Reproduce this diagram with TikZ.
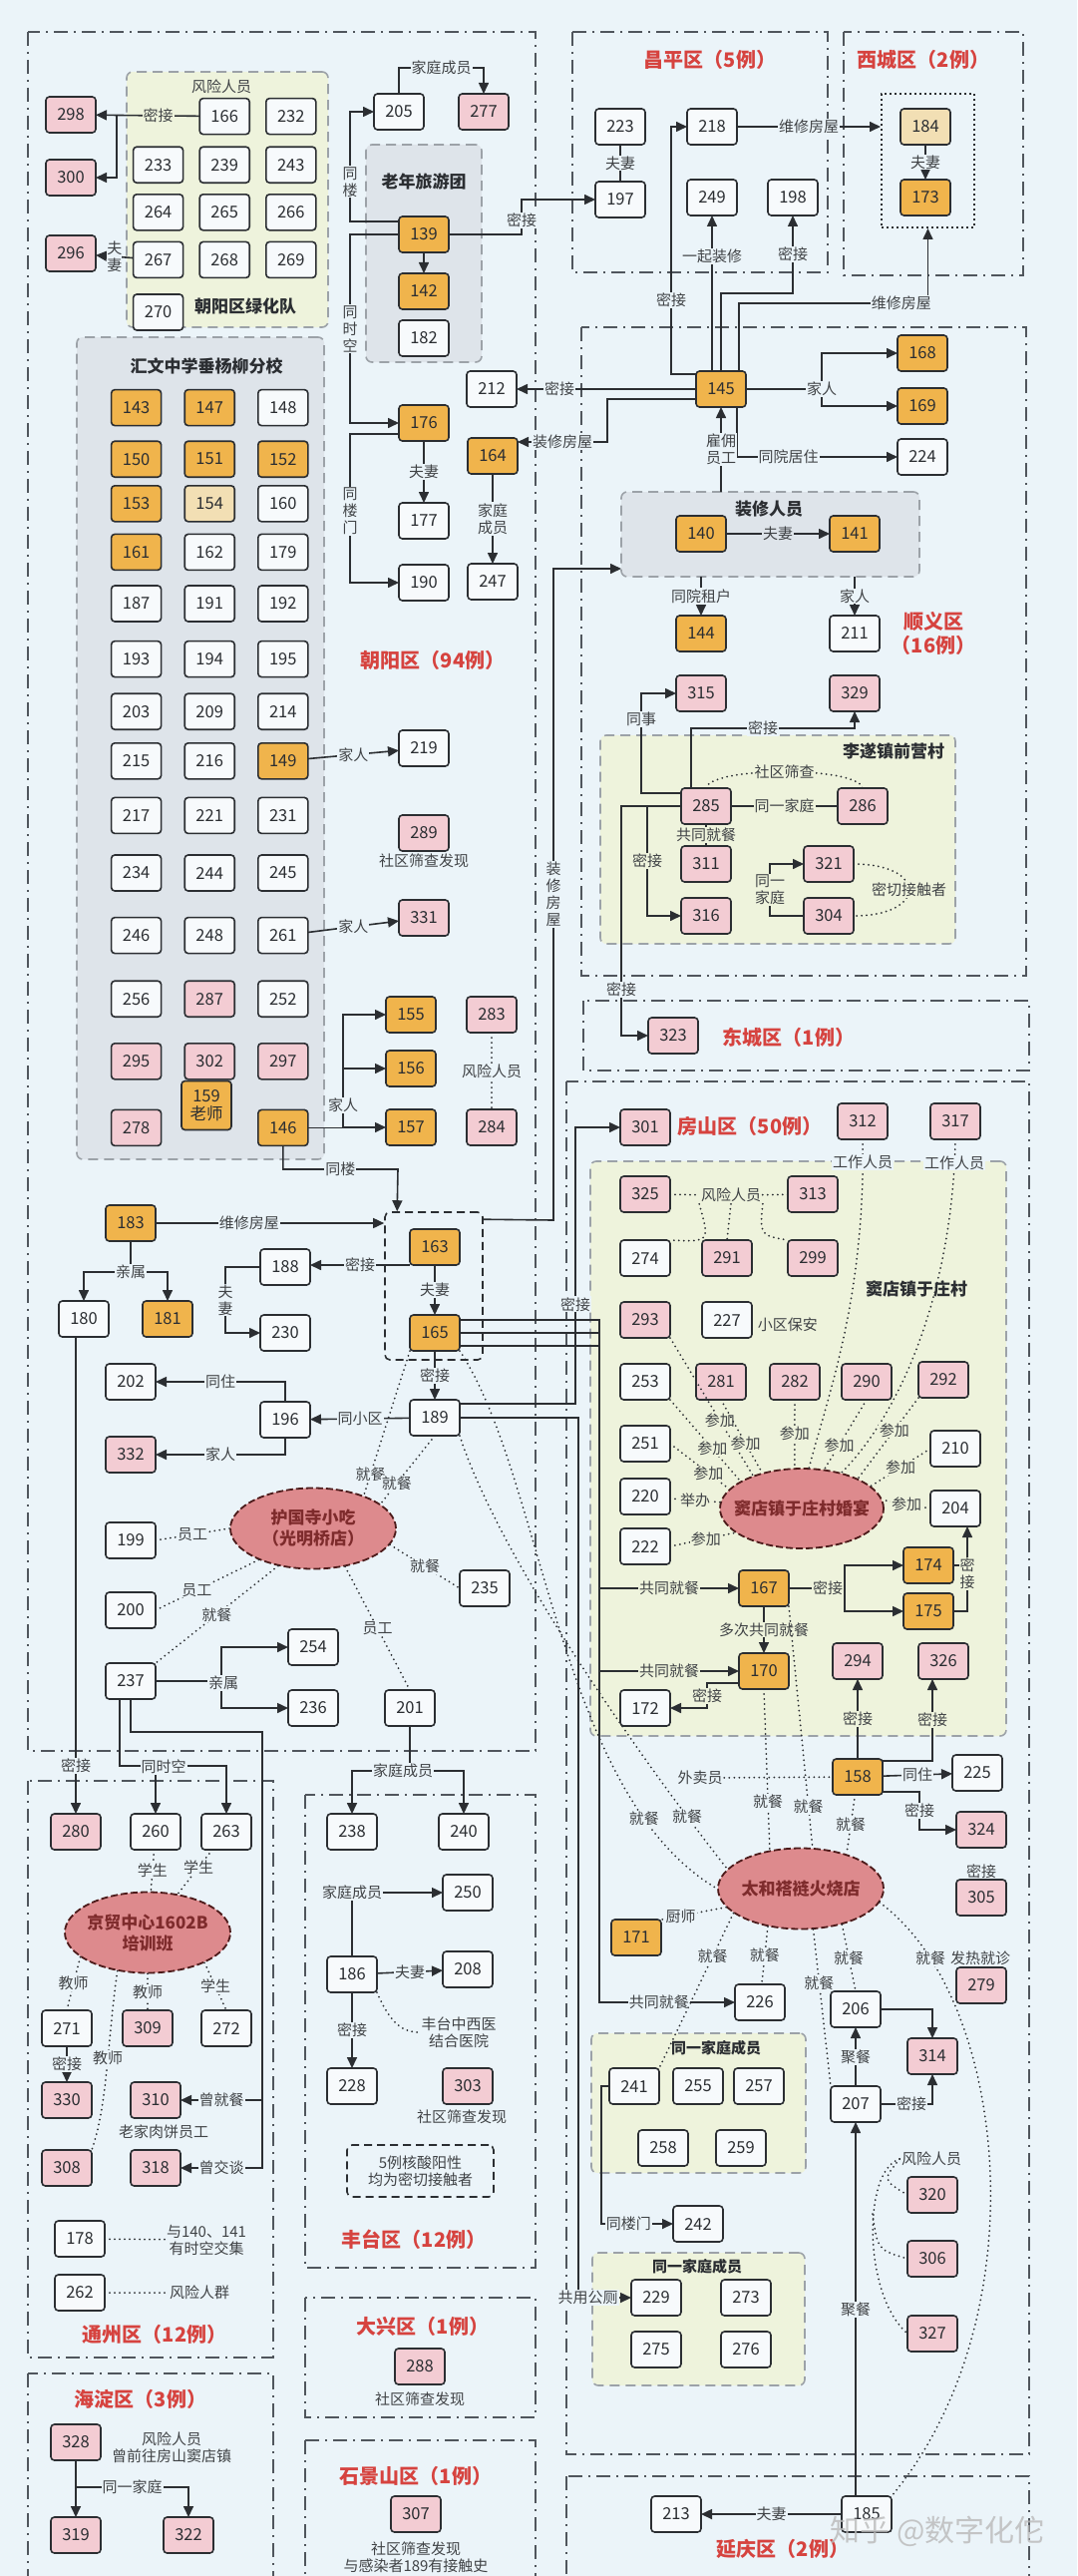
\documentclass[tikz,border=0pt]{standalone}
\usepackage{fontspec}
\setmainfont{Noto Sans CJK SC}
\usetikzlibrary{matrix,shapes.geometric,arrows.meta}
\definecolor{bg}{HTML}{EBF4F9}
\definecolor{grn}{HTML}{EEF3DC}
\definecolor{gry}{HTML}{DEE4EA}
\definecolor{orng}{HTML}{F0B44C}
\definecolor{pnkc}{HTML}{F3CCD3}
\definecolor{tanc}{HTML}{F2DFB4}
\definecolor{wht}{HTML}{F7FAFC}
\definecolor{ink}{HTML}{2B2E32}
\definecolor{rgn}{HTML}{50565D}
\definecolor{grb}{HTML}{9CA2A8}
\definecolor{redt}{HTML}{D6433F}
\definecolor{ellf}{HTML}{DD8A8D}
\definecolor{ellt}{HTML}{7E2B2C}
\newcommand{\lblfont}{\fontsize{15}{17}\selectfont}

\begin{document}
\begin{tikzpicture}[x=1pt,y=-1pt,color=ink,line width=1.6pt,
  >={Triangle[length=11pt,width=10pt]},
  box/.style={draw=ink,line width=1.6pt,rounded corners=3.5pt,fill=wht,minimum width=50pt,minimum height=36pt,inner sep=2pt,outer sep=0pt,font=\fontsize{16.5}{18}\selectfont,text=ink},
  org/.style={box,fill=orng},
  pnk/.style={box,fill=pnkc},
  tan/.style={box,fill=tanc},
  lbl/.style={fill=bg,inner sep=1pt,font=\lblfont,text=ink!90},
  lblg/.style={lbl,fill=grn},
  lbly/.style={lbl,fill=gry},
  txt/.style={font=\lblfont,text=ink!90,align=center,inner sep=1pt},
  ttl/.style={font=\fontsize{20}{24}\selectfont\bfseries,text=redt,align=center},
  gttl/.style={font=\fontsize{17}{20}\selectfont\bfseries,text=ink},
  dist/.style={draw=rgn,line width=2pt,dash pattern=on 14pt off 6pt on 2pt off 6pt},
  grp/.style={draw=grb,line width=1.6pt,dash pattern=on 10pt off 6pt,rounded corners=6pt,fill=grn,outer sep=0pt},
  ell/.style={ellipse,draw=ellt!60!black,fill=ellf,line width=1.8pt,dash pattern=on 7pt off 3pt,minimum width=166pt,minimum height=81pt},
  etx/.style={font=\fontsize{17}{21}\selectfont\bfseries,text=ellt,align=center},
  dot/.style={line width=2pt,line cap=round,dash pattern=on 0pt off 5pt}]
\fill[bg] (0,0) rectangle (1080,2582);
\useasboundingbox (0,0) rectangle (1080,2582);

\draw[dist] (28,32) rectangle (537,1755);
\draw[dist] (574,32) rectangle (830,273);
\draw[dist] (846,32) rectangle (1026,276);
\draw[dist] (583,328) rectangle (1029,978);
\draw[dist] (585,1003) rectangle (1032,1073);
\draw[dist] (568,1084) rectangle (1032,2460);
\draw[dist] (568,2482) rectangle (1032,2600);
\draw[dist] (28,1785) rectangle (274,2363);
\draw[dist] (28,2379) rectangle (274,2600);
\draw[dist] (306,1799) rectangle (537,2273);
\draw[dist] (306,2303) rectangle (537,2423);
\draw[dist] (306,2446) rectangle (537,2600);

\node[grp,minimum width=202pt,minimum height=256pt] (lhq) at (228,200) {};
\node[grp,fill=gry,minimum width=116pt,minimum height=218pt] (lnt) at (425,254) {};
\node[grp,fill=gry,minimum width=248pt,minimum height=824pt] (hwx) at (201,750) {};
\node[grp,fill=gry,minimum width=299pt,minimum height=85pt] (zx) at (772.5,535.5) {};
\node[grp,minimum width=356pt,minimum height=209pt] (lsv) at (780,841.5) {};
\node[grp,minimum width=417pt,minimum height=576pt] (ddv) at (800.5,1452) {};
\node[grp,minimum width=215pt,minimum height=140pt] (tj1) at (700.5,2108) {};
\node[grp,minimum width=213pt,minimum height=133pt] (tj2) at (700.5,2324.5) {};
\node[draw=ink,line width=1.6pt,dash pattern=on 8pt off 5pt,rounded corners=5pt,minimum width=98pt,minimum height=148pt] (g165) at (435,1289) {};
\node[draw=ink,line width=2pt,dash pattern=on 2pt off 3pt,minimum width=93pt,minimum height=134pt] (xcb) at (930.5,161) {};

\matrix (lh) [matrix of nodes,ampersand replacement=\&,nodes={box,anchor=center},column sep=15pt,row sep=10pt,inner sep=0pt,anchor=north west] at (132,97)
{
  \& 166 \& 232 \\[1pt]
 233 \& 239 \& 243 \\
 264 \& 265 \& 266 \\
 267 \& 268 \& 269 \\[5pt]
 270 \& \& \\};
\node[txt] (lhf) at (222,87) {风险人员};
\node[gttl] (lht) at (246,307) {朝阳区绿化队};

\matrix (hw) [matrix of nodes,ampersand replacement=\&,nodes={box,anchor=center},column sep=22pt,row sep=7pt,inner sep=0pt,anchor=north west] at (110,389)
{
 |[org]| 143 \& |[org]| 147 \& 148 \\[7pt]
 |[org]| 150 \& |[org]| 151 \& |[org]| 152 \\[0pt]
 |[org]| 153 \& |[tan]| 154 \& 160 \\[4pt]
 |[org]| 161 \& 162 \& 179 \\[7pt]
 187 \& 191 \& 192 \\[11pt]
 193 \& 194 \& 195 \\[8pt]
 203 \& 209 \& 214 \\[5pt]
 215 \& 216 \& |[org]| 149 \\[10pt]
 217 \& 221 \& 231 \\[13pt]
 234 \& 244 \& 245 \\[18pt]
 246 \& 248 \& 261 \\[19pt]
 256 \& |[pnk]| 287 \& 252 \\[18pt]
 |[pnk]| 295 \& |[pnk]| 302 \& |[pnk]| 297 \\[22pt]
 |[pnk]| 278 \& \& |[org]| 146 \\};
\node[org,align=center,minimum height=49pt] (p159) at (207,1108) {159\\老师};
\node[gttl] (hwt) at (207,367) {汇文中学垂杨柳分校};

\node[pnk] (p298) at (71,115) {298};
\node[pnk] (p300) at (71,178) {300};
\node[pnk] (p296) at (71,254) {296};
\node[box] (p205) at (400,112) {205};
\node[pnk] (p277) at (485,112) {277};
\node[gttl] (lntt) at (425,182) {老年旅游团};
\node[org] (p139) at (425,235) {139};
\node[org] (p142) at (425,292) {142};
\node[box] (p182) at (425,339) {182};
\node[box] (p212) at (493,390) {212};
\node[org] (p176) at (425,424) {176};
\node[box] (p177) at (425,522) {177};
\node[box] (p190) at (425,584) {190};
\node[org] (p164) at (494,457) {164};
\node[box] (p247) at (494,583) {247};
\node[ttl] (cy) at (434,662) {朝阳区（94例）};
\node[box] (p219) at (425,750) {219};
\node[pnk] (p289) at (425,835) {289};
\node[txt] (s289) at (425,863) {社区筛查发现};
\node[pnk] (p331) at (425,920) {331};
\node[org] (p155) at (412,1017) {155};
\node[org] (p156) at (412,1071) {156};
\node[org] (p157) at (412,1130) {157};
\node[pnk] (p283) at (493,1017) {283};
\node[pnk] (p284) at (493,1130) {284};
\node[org] (p183) at (131,1226) {183};
\node[box] (p180) at (84,1322) {180};
\node[org] (p181) at (168,1322) {181};
\node[org] (p163) at (436,1250) {163};
\node[org] (p165) at (436,1336) {165};
\node[box] (p188) at (286,1270) {188};
\node[box] (p230) at (286,1336) {230};
\node[box] (p189) at (436,1421) {189};
\node[box] (p196) at (286,1423) {196};
\node[box] (p202) at (131,1385) {202};
\node[pnk] (p332) at (131,1458) {332};
\node[ell] (hgs) at (314,1532) {};
\node[etx] (hgst) at (hgs) {护国寺小吃\\（光明桥店）};
\node[box] (p199) at (131,1544) {199};
\node[box] (p200) at (131,1614) {200};
\node[box] (p235) at (486,1592) {235};
\node[box] (p237) at (131,1685) {237};
\node[box] (p254) at (314,1651) {254};
\node[box] (p236) at (314,1712) {236};
\node[box] (p201) at (411,1712) {201};

\node[pnk] (p280) at (76,1836) {280};
\node[box] (p260) at (156,1836) {260};
\node[box] (p263) at (227,1836) {263};
\node[ell] (jm) at (148,1937) {};
\node[etx] (jmt) at (jm) {京贸中心1602B\\培训班};
\node[box] (p271) at (67,2033) {271};
\node[pnk] (p309) at (148,2033) {309};
\node[box] (p272) at (227,2033) {272};
\node[pnk] (p330) at (67,2105) {330};
\node[pnk] (p310) at (156,2105) {310};
\node[txt] (s310) at (164,2137) {老家肉饼员工};
\node[pnk] (p308) at (67,2173) {308};
\node[pnk] (p318) at (156,2173) {318};
\node[box] (p178) at (80,2244) {178};
\node[txt] (s178) at (207,2245) {与140、141\\有时空交集};
\node[box] (p262) at (80,2298) {262};
\node[txt] (s262) at (200,2298) {风险人群};
\node[ttl] (tz) at (155,2340) {通州区（12例）};
\node[ttl] (hd) at (141,2405) {海淀区（3例）};
\node[pnk] (p328) at (76,2448) {328};
\node[txt] (s328) at (172,2453) {风险人员\\曾前往房山窦店镇};
\node[pnk] (p319) at (76,2541) {319};
\node[pnk] (p322) at (189,2541) {322};

\node[box] (p238) at (353,1836) {238};
\node[box] (p240) at (465,1836) {240};
\node[box] (p250) at (469,1897) {250};
\node[box] (p186) at (353,1979) {186};
\node[box] (p208) at (469,1974) {208};
\node[txt] (hosp) at (460,2037) {丰台中西医\\结合医院};
\node[box] (p228) at (353,2091) {228};
\node[pnk] (p303) at (469,2091) {303};
\node[txt] (s303) at (463,2122) {社区筛查发现};
\node[txt,draw=ink,line width=1.6pt,dash pattern=on 8pt off 5pt,rounded corners=5pt,minimum width=147pt,minimum height=52pt] (fnb) at (421.5,2176) {5例核酸阳性\\均为密切接触者};
\node[ttl] (ft) at (415,2245) {丰台区（12例）};
\node[ttl] (dx) at (424,2332) {大兴区（1例）};
\node[pnk] (p288) at (421,2372) {288};
\node[txt] (s288) at (421,2405) {社区筛查发现};
\node[ttl] (sjs) at (417,2482) {石景山区（1例）};
\node[pnk] (p307) at (417,2520) {307};
\node[txt] (s307) at (417,2563) {社区筛查发现\\与感染者189有接触史};

\node[ttl] (cp) at (712,60) {昌平区（5例）};
\node[ttl] (xc) at (926,60) {西城区（2例）};
\node[box] (p223) at (622,127) {223};
\node[box] (p197) at (622,200) {197};
\node[box] (p218) at (714,127) {218};
\node[box] (p249) at (714,198) {249};
\node[box] (p198) at (795,198) {198};
\node[tan] (p184) at (928,127) {184};
\node[org] (p173) at (928,198) {173};

\node[org] (p145) at (723,390) {145};
\node[org] (p168) at (925,354) {168};
\node[org] (p169) at (925,407) {169};
\node[box] (p224) at (925,458) {224};
\node[gttl] (zxt) at (771,510) {装修人员};
\node[org] (p140) at (703,535) {140};
\node[org] (p141) at (857,535) {141};
\node[org] (p144) at (703,635) {144};
\node[box] (p211) at (857,635) {211};
\node[ttl] (sy) at (936,635) {顺义区\\（16例）};
\node[pnk] (p315) at (703,695) {315};
\node[pnk] (p329) at (857,695) {329};
\node[gttl] (lsvt) at (896,753) {李遂镇前营村};
\node[pnk] (p285) at (708,808) {285};
\node[pnk] (p286) at (865,808) {286};
\node[pnk] (p311) at (708,866) {311};
\node[pnk] (p316) at (708,918) {316};
\node[pnk] (p321) at (831,866) {321};
\node[pnk] (p304) at (831,918) {304};
\node[ttl] (dc) at (791,1040) {东城区（1例）};
\node[pnk] (p323) at (675,1038) {323};

\node[ttl] (fs) at (752,1129) {房山区（50例）};
\node[pnk] (p301) at (647,1130) {301};
\node[pnk] (p312) at (865,1124) {312};
\node[pnk] (p317) at (958,1124) {317};
\node[gttl] (ddvt) at (919,1292) {窦店镇于庄村};
\node[pnk] (p325) at (647,1197) {325};
\node[pnk] (p313) at (815,1197) {313};
\node[txt] (fxr) at (733,1198) {风险人员};
\node[box] (p274) at (647,1261) {274};
\node[pnk] (p291) at (729,1261) {291};
\node[pnk] (p299) at (815,1261) {299};
\node[pnk] (p293) at (647,1323) {293};
\node[box] (p227) at (729,1323) {227};
\node[txt,anchor=west] (s227) at (758,1328) {小区保安};
\node[box] (p253) at (647,1385) {253};
\node[pnk] (p281) at (723,1385) {281};
\node[pnk] (p282) at (797,1385) {282};
\node[pnk] (p290) at (869,1385) {290};
\node[pnk] (p292) at (946,1383) {292};
\node[box] (p251) at (647,1447) {251};
\node[box] (p210) at (958,1452) {210};
\node[box] (p220) at (647,1500) {220};
\node[box] (p204) at (958,1512) {204};
\node[box] (p222) at (647,1550) {222};
\node[ell,minimum width=164pt,minimum height=80pt] (hy) at (804,1512) {};
\node[etx] (hyt) at (hy) {窦店镇于庄村婚宴};
\node[org] (p167) at (766,1592) {167};
\node[org] (p174) at (931,1569) {174};
\node[org] (p175) at (931,1615) {175};
\node[org] (p170) at (766,1675) {170};
\node[box] (p172) at (647,1712) {172};
\node[pnk] (p294) at (860,1665) {294};
\node[pnk] (p326) at (946,1665) {326};
\node[org] (p158) at (860,1781) {158};
\node[txt] (wmy) at (702,1782) {外卖员};
\node[box] (p225) at (980,1777) {225};
\node[pnk] (p324) at (984,1834) {324};
\node[txt] (s305) at (984,1876) {密接};
\node[pnk] (p305) at (984,1902) {305};
\node[txt] (s279) at (983,1963) {发热就诊};
\node[pnk] (p279) at (984,1990) {279};
\node[ell] (th) at (803,1893) {};
\node[etx] (tht) at (th) {太和褡裢火烧店};
\node[org] (p171) at (638,1942) {171};
\node[box] (p226) at (762,2007) {226};
\node[box] (p206) at (858,2014) {206};
\node[box] (p207) at (858,2109) {207};
\node[pnk] (p314) at (935,2061) {314};
\node[gttl,font=\fontsize{15}{18}\selectfont\bfseries] (tj1t) at (718,2053) {同一家庭成员};
\node[box] (p241) at (636,2091) {241};
\node[box] (p255) at (700,2091) {255};
\node[box] (p257) at (761,2091) {257};
\node[box] (p258) at (665,2153) {258};
\node[box] (p259) at (743,2153) {259};
\node[box] (p242) at (700,2229) {242};
\node[gttl,font=\fontsize{15}{18}\selectfont\bfseries] (tj2t) at (699,2272) {同一家庭成员};
\node[box] (p229) at (658,2303) {229};
\node[box] (p273) at (748,2303) {273};
\node[box] (p275) at (658,2355) {275};
\node[box] (p276) at (748,2355) {276};
\node[txt] (fxb) at (934,2164) {风险人员};
\node[pnk] (p320) at (935,2200) {320};
\node[pnk] (p306) at (935,2264) {306};
\node[pnk] (p327) at (935,2339) {327};
\node[box] (p185) at (869,2520) {185};
\node[box] (p213) at (678,2520) {213};
\node[ttl] (yq) at (785,2555) {延庆区（2例）};

\draw[->] (lh-1-2) -- node[lblg,pos=0.4]{密接} (p298);
\draw[->] (117,115) |- (p300);
\draw[->] (lh-4-1) -- node[lbl,align=center,inner sep=0pt]{夫\\妻} (p296);
\draw[->] (p205.north) -- (400,68) -| node[lbl,pos=0.25]{家庭成员} (p277.north);
\draw[->] (p139) -- (p142);
\draw[->] ([yshift=13pt]p139.west) -- (351,222) |- node[lbl,pos=0.18,align=center]{同\\楼} (p205.west);
\draw[->] (p139.west) -- (351,235) |- node[lbl,pos=0.25,align=center]{同\\时\\空} (p176.west);
\draw[->] (p139.east) -- (523,235) |- node[lbl,pos=0.2]{密接} (p197.west);
\draw[->] (p176) -- node[lbl]{夫妻} (p177);
\draw[->] ([yshift=-11pt]p176.west) -- (351,435) |- node[lbl,pos=0.26,align=center]{同\\楼\\门} (p190.west);
\draw[->] (p164) -- node[lbl,align=center]{家庭\\成员} (p247);
\draw[->] ([yshift=-10pt]p145.west) -| (609,443) -- node[lbl]{装修房屋} ([yshift=14pt]p164.east);
\draw[->] (p145) -- node[lbl,pos=0.76]{密接} (p212);
\draw[->] (hw-8-3) -- node[lbl]{家人} (p219);
\draw[->] (hw-11-3) -- node[lbl]{家人} (p331);
\draw[->] (hw-14-3) -| (344,1017) -- (p155);
\draw[->] (344,1071) -- (p156);
\draw[->] (344,1108) |- (p157);
\node[lbl] (j146) at (344,1108) {家人};
\draw[dot] (p283) -- node[lbl]{风险人员} (p284);
\draw[->] (hw-14-3.south) |- node[lbl,pos=0.75]{同楼} (399,1172) -- ([xshift=13pt]g165.north west);
\draw[->] (p183) -- node[lbl,pos=0.41]{维修房屋} (p183 -| g165.west);
\draw[->] (p183) -- (131,1275) -| (p180);
\draw[->] (131,1275) -| (p181);
\node[lbl] (j183) at (131,1275) {亲属};
\draw[->] (p163) -- node[lbl]{夫妻} (p165);
\draw[->] (p163.south west) -- node[lbl]{密接} (p163.south west -| p188.east);
\draw[->] (p188.west) -- (226,1270) |- node[lbl,pos=0.25,align=center]{夫\\妻} (p230.west);
\draw[->] (p165) -- node[lbl]{密接} (p189);
\draw[->] (p189) -- node[lbl]{同小区} (p196);
\draw[->] (p196.north) |- node[lbl,pos=0.75]{同住} (p202.east);
\draw[->] (p196.south) |- node[lbl,pos=0.75]{家人} (p332.east);
\draw[dot] (p165.south west) -- node[lbl,pos=0.85]{就餐} (hgs.33);
\draw[dot] (p189.south) -- node[lbl,pos=0.7]{就餐} (hgs.20);
\draw[dot] (hgs.west) -- node[lbl]{员工} (p199.east);
\draw[dot] (hgs.210) -- node[lbl,pos=0.6]{员工} (p200.east);
\draw[dot] (hgs.348) -- node[lbl]{就餐} (p235.west);
\draw[dot] (hgs.227) -- node[lbl]{就餐} (p237.north east);
\draw[dot] (hgs.310) -- node[lbl]{员工} (p201.north);
\draw[->] (p237.east) -- (222,1685) |- (p254.west);
\draw[->] (222,1685) |- (p236.west);
\node[lbl] (j237) at (224,1687) {亲属};

\draw[->] (p180.south -| p280.north) -- node[lbl,pos=0.9]{密接} (p280.north);
\draw[->] ([xshift=-11pt]p237.south) |- (156,1770) -| (p263.north);
\draw[->] (156,1770) -- (p260.north);
\node[lbl] (j260) at (164,1771) {同时空};
\draw[->] (p237.south) |- (263,1736) |- node[lbl,pos=0.75]{曾交谈} (p318.east);
\draw[->] (263,2105) -- node[lbl]{曾就餐} (p310.east);
\draw[dot] (p260) -- node[lbl]{学生} (jm);
\draw[dot] (p263) -- node[lbl,pos=0.4]{学生} (jm);
\draw[dot] (jm.200) -- node[lbl]{教师} (p271.north);
\draw[dot] (jm.south) -- node[lbl]{教师} (p309.north);
\draw[dot] (jm.332) -- node[lbl]{学生} (p272.north);
\draw[dot] (jm.232) .. controls (108,2040) and (108,2110) .. node[lbl,pos=0.45]{教师} (p308.north east);
\draw[->] (p271) -- node[lbl]{密接} (p330);
\draw[dot] (p178) -- (s178);
\draw[dot] (p262) -- (s262);
\draw[->] (p328) -- (p319);
\draw[->] (76,2493) -| node[lbl,pos=0.25]{同一家庭} (p322.north);

\draw[->] (p201) -- (411,1775) -| (p238);
\draw[->] (411,1775) -| (p240);
\node[lbl] (j201) at (404,1775) {家庭成员};
\draw[->] (p186.north) |- node[lbl,pos=0.5]{家庭成员} (p250.west);
\draw[->] (p186) -- node[lbl]{夫妻} (p208);
\draw[->] (p186) -- node[lbl]{密接} (p228);
\draw[dot] (p186.south east) .. controls (392,2030) and (405,2037) .. (hosp.west);

\draw (p223) -- node[lbl]{夫妻} (p197);
\draw[->] (p218) -- node[lbl]{维修房屋} (p218 -| xcb.west);
\draw[->] (p184) -- node[lbl]{夫妻} (p173);
\draw[->] ([yshift=15pt]p145.west) -- (673,375) |- node[lbl,pos=0.15]{密接} (p218.west);
\draw[->] (p249.south |- p145.north) -- node[lbl,pos=0.74]{一起装修} (p249.south);
\draw[->] (p145.north) -- (723,294) -| node[lbl,pos=0.75]{密接} (p198.south);
\draw[->] ([xshift=18pt]p145.north) -- (741,304) -| node[lbl,pos=0.43]{维修房屋} (xcb.south);
\draw[->] (p145.east) -- (824,390) |- (p168.west);
\draw[->] (824,390) |- (p169.west);
\node[lbl] (j145) at (824,390) {家人};
\draw[->] ([xshift=16pt]p145.south) |- node[lbl,pos=0.66]{同院居住} (p224.west);
\draw[->] (zx.north -| p145.south) -- node[lbl,align=center]{雇佣\\员工} (p145.south);
\draw[->] (p140) -- node[lbly]{夫妻} (p141);
\draw[->] (p144.north |- zx.south) -- node[lbl]{同院租户} (p144.north);
\draw[->] (p211.north |- zx.south) -- node[lbl]{家人} (p211.north);
\draw[->] ([yshift=13pt]p285.west) -- (643,795) |- node[lbl,pos=0.37]{同事} (p315.west);
\draw[->] ([xshift=-15pt]p285.north) -- (693,730) -| node[lbl,pos=0.22]{密接} (p329.south);
\draw (p285) -- node[lblg]{同一家庭} (p286);
\draw[dot] (p285.north) .. controls (712,768) and (861,768) .. node[lblg]{社区筛查} (p286.north);
\draw (p285) -- node[lblg]{共同就餐} (p311);
\draw[->] (p285.west) -- (649,808) |- node[lblg,pos=0.25]{密接} (p316.west);
\draw[->] (p285.west) -- (623,808) |- node[lbl,pos=0.4]{密接} (p323.west);
\draw[->] (p304.west) -- (772,918) |- node[lblg,pos=0.25,align=center]{同一\\家庭} (p321.west);
\draw[dot] (p321.east) .. controls (930,866) and (930,918) .. node[lblg]{密切接触者} (p304.east);

\draw[->] ([yshift=-8pt]g165.north east) -- (555,1223) |- node[lbl,pos=0.25,align=center]{装\\修\\房\\屋} ([yshift=-77pt]zx.north west);
\draw[->] ([yshift=14pt]p189.east) -- (577,1407) |- node[lbl,pos=0.18]{密接} (p301.west);
\draw[->] (p189.east) -- (580,1421) |- node[lbl,pos=0.59]{共用公厕} (p229.west);
\draw[->] ([yshift=13pt]p165.east) -- (601,1323) |- node[lblg,pos=0.75]{共同就餐} (p167.west);
\draw[->] (p165.east) -- (601,1336) |- node[lblg,pos=0.75]{共同就餐} (p170.west);
\draw[->] ([yshift=-13pt]p165.east) -- (601,1349) |- node[lbl,pos=0.72]{共同就餐} (p226.west);
\draw[dot] (p165.south east) .. controls (545,1480) and (560,1800) .. node[lbl,pos=0.82]{就餐} (th.180);
\draw[dot] (p189.south east) .. controls (500,1560) and (640,1760) .. node[lbl,pos=0.86]{就餐} (th.165);

\draw[dot] (p325) -- (fxr);
\draw[dot] (fxr) -- (p313);
\draw[dot] (fxr.south west) .. controls (712,1245) .. (p274.north east);
\draw[dot] (fxr.south) -- (p291.north);
\draw[dot] (fxr.south east) .. controls (762,1238) .. (p299.north west);
\draw[dot] (p312.south) .. controls (868,1300) and (830,1400) .. node[lbl,pos=0.05]{工作人员} (hy.80);
\draw[dot] (p317.south) .. controls (955,1300) and (900,1420) .. node[lbl,pos=0.05]{工作人员} (hy.42);
\draw[dot] (p293.south east) -- node[lblg,pos=0.6]{参加} (hy.146);
\draw[dot] (p253.south east) -- node[lblg,pos=0.6]{参加} (hy.156);
\draw[dot] (p251.east) -- node[lblg,pos=0.65]{参加} (hy.165);
\draw[dot] (p281.south) -- node[lblg,pos=0.6]{参加} (hy.138);
\draw[dot] (p282.south) -- node[lblg]{参加} (hy.100);
\draw[dot] (p290.south) -- node[lblg,pos=0.65]{参加} (hy.60);
\draw[dot] (p292.south west) -- node[lblg,pos=0.4]{参加} (hy.28);
\draw[dot] (p210.west) -- node[lblg]{参加} (hy.18);
\draw[dot] (p204.west) -- node[lblg]{参加} (hy.6);
\draw[dot] (p220) -- node[lblg]{举办} (hy);
\draw[dot] (p222.east) -- node[lblg,pos=0.55]{参加} (hy.200);

\draw[->] (p167.east) -- node[lblg,pos=0.7]{密接} (847,1592) |- (p174.west);
\draw[->] (847,1592) |- (p175.west);
\draw (p174.east) -- (970,1569);
\draw[->] (p175.east) -| node[lblg,pos=0.72,align=center]{密\\接} ([xshift=12pt]p204.south);
\draw[->] (p167) -- node[lblg]{多次共同就餐} (p170);
\draw[->] ([yshift=-12pt]p170.west) -| node[lblg,pos=0.75]{密接} (709,1712) -- (p172.east);
\draw[->] (p158) -- node[lblg]{密接} (p294);
\draw[->] ([yshift=16pt]p158.east) -| node[lblg,pos=0.75]{密接} ([xshift=-11pt]p326.south);
\draw[->] (p158) -- node[lbl]{同住} (p225);
\draw[->] ([yshift=-15pt]p158.east) -- (922,1796) |- node[lbl,pos=0.25]{密接} (p324.west);
\draw[dot] (wmy) -- (p158);
\draw[dot] (p167.south east) -- node[lbl,pos=0.83]{就餐} (th.74);
\draw[dot] (p170.south) -- node[lbl,pos=0.7]{就餐} (th.129);
\draw[dot] (p158) -- node[lbl]{就餐} (th.37);
\draw[dot] (th.194) -- node[lbl,pos=0.7]{厨师} (p171.north east);
\draw[dot] (th.200) -- node[lbl,pos=0.28]{就餐} (p241.north east);
\draw[dot] (th.229) -- node[lbl]{就餐} (p226);
\draw[dot] (th.287) -- node[lbl,pos=0.34]{就餐} (p207.north west);
\draw[dot] (th.319) -- node[lbl]{就餐} (p206.north);
\draw[dot] (th.350) .. controls (1010,2000) and (1045,2320) .. node[lbl,pos=0.15]{就餐} (p185.north east);
\draw[->] (p206.east) -| (p314.north);
\draw[->] (p207.east) -| node[lbl,pos=0.3]{密接} (p314.south);
\draw[->] (p207) -- node[lbl]{聚餐} (p206);
\draw[->] (p207.south |- p185.north) -- node[lbl]{聚餐} (p207.south);
\draw[->] (p185) -- node[lbl]{夫妻} (p213);
\draw[->] (p241.west) -- (603,2091) |- node[lbl,pos=0.69]{同楼门} (p242.west);
\draw[dot] (fxb.west) .. controls (865,2175) and (865,2300) .. (p327.west);
\draw[dot] (fxb.west) .. controls (885,2185) .. (p320.west);
\draw[dot] (875,2219) .. controls (880,2255) .. (p306.west);

\node[font=\fontsize{30}{32}\selectfont,text=gray!55!white,opacity=0.8] (wm) at (940,2537) {知乎 @数字化佗};
\end{tikzpicture}
\end{document}
